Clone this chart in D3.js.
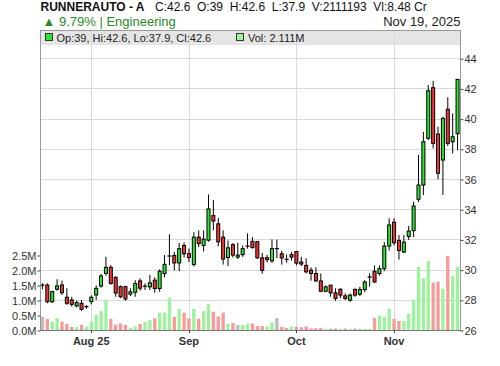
<!DOCTYPE html>
<html><head><meta charset="utf-8">
<script src="https://cdn.jsdelivr.net/npm/d3@7"></script>
<style>
body{margin:0;background:#fff}
svg text{font-family:"Liberation Sans",Arial,sans-serif}
</style>
</head><body>
<svg id="c" width="500" height="366"></svg>
<script>
const dates = [
"2025-07-17","2025-07-18","2025-07-21","2025-07-22","2025-07-23","2025-07-24","2025-07-25","2025-07-28","2025-07-29","2025-07-30","2025-07-31",
"2025-08-01","2025-08-04","2025-08-05","2025-08-06","2025-08-07","2025-08-08","2025-08-11","2025-08-12","2025-08-13","2025-08-14","2025-08-18","2025-08-19","2025-08-20","2025-08-21","2025-08-22","2025-08-25","2025-08-26","2025-08-27","2025-08-28","2025-08-29",
"2025-09-01","2025-09-02","2025-09-03","2025-09-04","2025-09-05","2025-09-08","2025-09-09","2025-09-10","2025-09-11","2025-09-12","2025-09-15","2025-09-16","2025-09-17","2025-09-18","2025-09-19","2025-09-22","2025-09-23","2025-09-24","2025-09-25","2025-09-26","2025-09-29","2025-09-30",
"2025-10-01","2025-10-03","2025-10-06","2025-10-07","2025-10-08","2025-10-09","2025-10-10","2025-10-13","2025-10-14","2025-10-15","2025-10-16","2025-10-17","2025-10-20","2025-10-23","2025-10-24","2025-10-27","2025-10-28","2025-10-29","2025-10-30","2025-10-31",
"2025-11-03","2025-11-04","2025-11-05","2025-11-06","2025-11-07","2025-11-10","2025-11-11","2025-11-12","2025-11-13","2025-11-14","2025-11-17","2025-11-18","2025-11-19"];

const open = [28.97,28.98,27.87,28.7,28.98,28.17,27.99,27.59,27.77,27.55,27.88,28.32,28.91,29.75,30.15,29.49,28.87,28.87,28.38,28.5,29.25,28.9,28.86,29.3,28.75,29.74,30.9,30.94,30.44,31.6,31.05,30.34,32.15,31.6,31.95,33.58,33.03,32.15,30.8,31.65,30.83,30.99,31.56,31.87,31.85,30.78,30.79,30.58,31.39,31.05,30.68,30.99,31.2,30.5,30.28,29.96,29.74,29.25,28.57,28.97,28.46,28.7,28.26,27.98,28.68,28.37,28.68,29.51,29.89,29.74,30.06,31.56,33.14,31.93,31.16,32.2,32.58,34.66,35.6,38.7,42.05,38.98,37.26,40.62,38.47,39.0];
const high = [29.1,29.09,28.6,29.36,29.27,28.76,28.2,27.95,27.99,27.65,28.3,28.95,29.7,30.85,30.3,29.55,28.95,28.9,28.76,29.3,29.42,29.09,29.64,29.49,30.02,30.97,32.34,31.16,31.76,31.8,31.4,32.48,32.6,32.6,34.98,34.6,33.43,32.6,31.93,31.75,31.78,31.6,32.4,32.15,31.9,31.1,30.97,32.0,31.98,31.25,31.0,31.16,31.22,30.85,30.75,30.15,30.15,29.74,28.95,28.97,28.76,28.76,28.42,28.42,28.76,28.86,29.3,29.75,30.28,30.28,31.82,33.4,33.4,32.29,32.29,32.9,34.5,37.59,39.13,42.23,42.51,39.46,40.13,41.41,40.35,42.6];
const low = [28.7,27.77,27.8,28.6,28.32,27.66,27.55,27.5,27.28,27.4,27.7,28.0,28.8,29.6,29.0,28.2,28.1,27.95,28.25,28.2,28.6,28.65,28.65,28.47,28.54,29.49,30.3,29.95,29.9,30.8,30.5,30.2,31.5,31.2,31.85,32.6,31.54,30.33,30.24,30.8,30.7,30.85,31.39,31.39,30.7,29.72,30.48,30.45,30.77,30.33,30.45,30.6,30.28,30.24,29.75,29.27,29.2,28.5,28.5,28.2,27.93,28.1,27.98,27.87,28.2,28.25,28.5,28.87,29.13,29.6,29.9,31.27,31.6,30.66,31.1,31.96,32.16,34.48,34.94,38.58,38.03,35.98,34.94,38.19,37.7,37.9];
const close = [28.97,27.87,28.54,28.92,28.47,27.77,27.7,27.81,27.37,27.55,28.17,28.76,29.58,30.15,29.09,28.45,28.2,28.05,28.53,29.08,28.77,28.9,29.12,28.75,29.89,30.35,30.9,30.44,31.39,31.05,30.8,32.15,31.72,32.02,34.02,33.22,31.84,30.7,31.44,30.96,30.96,31.39,31.56,31.46,30.78,29.95,30.66,31.39,31.39,30.77,30.68,30.83,30.43,30.37,29.85,29.74,29.25,28.57,28.86,28.46,28.09,28.31,28.09,28.31,28.31,28.68,29.18,29.51,29.18,30.06,31.56,32.96,31.78,31.27,31.82,32.55,34.21,35.6,38.47,41.85,38.36,36.38,40.02,38.36,38.8,42.6];
// volume in millions of shares
const volume = [0.44,0.37,0.28,0.40,0.28,0.20,0.10,0.10,0.17,0.11,0.28,0.50,0.63,1.00,0.37,0.18,0.22,0.17,0.08,0.13,0.20,0.27,0.33,0.39,0.58,0.58,1.08,0.43,0.70,0.58,0.38,0.70,0.38,0.63,0.87,0.61,0.45,0.58,0.20,0.23,0.17,0.17,0.21,0.22,0.13,0.13,0.12,0.25,0.40,0.10,0.07,0.12,0.10,0.09,0.12,0.05,0.06,0.07,0.04,0.04,0.05,0.04,0.05,0.04,0.05,0.04,0.04,0.04,0.40,0.47,0.44,0.71,0.37,0.30,0.30,0.53,1.00,2.10,1.73,2.30,1.58,1.61,1.37,2.47,1.80,2.111193];

const priceTicks = [26,28,30,32,34,36,38,40,42,44];
const volumeTicks = [0,0.5,1.0,1.5,2.0,2.5];
const monthTickDates = ["2025-07-31","2025-08-29","2025-09-30","2025-10-31"];
const monthTickLabels = ["Aug 25","Sep","Oct","Nov"];

const symbol = "RUNNERAUTO - A";
const sector = "Engineering";
const valueCr = "8.48 Cr";
const asOf = "Nov 19, 2025";

const L = 40, R = 460, T = 30, B = 330;
const svg = d3.select("#c");
const x = d3.scaleBand().domain(dates).range([L, R]).padding(0);
const cx = d => x(d) + x.bandwidth() / 2;
const y = d3.scaleLinear().domain([26, 45.87]).range([B, T]);
const yv = d3.scaleLinear().domain([0, 10]).range([B, T]);

const GREEN = "#2ee62e", RED = "#f23333";
const VGREEN = "#9ef29e", VRED = "#f79a9a", VGRAY = "#bdbdbd";

const n = dates.length;
const last = n - 1;
const fmt = v => (+v.toFixed(2)).toString();

// header
svg.append("text").attr("x", 40.5).attr("y", 11).attr("font-size", 12).attr("font-weight", "bold").attr("fill", "#111").text(symbol);
svg.append("text").attr("x", 155).attr("y", 11).attr("font-size", 12).attr("fill", "#111").style("white-space", "pre")
  .text(`C:${fmt(close[last])}  O:${fmt(open[last])}  H:${fmt(high[last])}  L:${fmt(low[last])}  V:${Math.round(volume[last]*1e6)}  Vl:${valueCr}`);
const chg = (close[last] / close[last - 1] - 1) * 100;
svg.append("text").attr("x", 42.5).attr("y", 26).attr("font-size", 13).attr("fill", "#2a8a2a")
  .text(`▲ ${chg.toFixed(2)}% | ${sector}`);
svg.append("text").attr("x", 460.5).attr("y", 26).attr("font-size", 13).attr("fill", "#222").attr("text-anchor", "end").text(asOf);

// grid
const g = svg.append("g");
g.selectAll("line.h").data(priceTicks).join("line")
  .attr("x1", L).attr("x2", R).attr("y1", d => Math.round(y(d)) + 0.5).attr("y2", d => Math.round(y(d)) + 0.5)
  .attr("stroke", "#d9d9d9");
g.selectAll("line.v").data(monthTickDates).join("line")
  .attr("x1", d => Math.round(cx(d)) + 0.5).attr("x2", d => Math.round(cx(d)) + 0.5).attr("y1", T).attr("y2", B)
  .attr("stroke", "#d9d9d9");

// legend box
svg.append("rect").attr("x", L).attr("y", T).attr("width", R - L).attr("height", 15).attr("fill", "#dcdcdc").attr("opacity", 0.75);

// volume bars
const vw = x.bandwidth() * 0.68;
svg.append("g").selectAll("rect").data(d3.range(n)).join("rect")
  .attr("x", i => cx(dates[i]) - vw / 2).attr("width", vw)
  .attr("y", i => yv(volume[i])).attr("height", i => B - yv(volume[i]))
  .attr("fill", i => i === 0 || close[i] === close[i - 1] ? VGRAY : (close[i] > close[i - 1] ? VGREEN : VRED));

// candles
const bw = x.bandwidth() * 0.62;
const cg = svg.append("g");
cg.selectAll("line").data(d3.range(n)).join("line")
  .attr("x1", i => cx(dates[i])).attr("x2", i => cx(dates[i]))
  .attr("y1", i => y(high[i])).attr("y2", i => y(low[i]))
  .attr("stroke", "#000").attr("stroke-width", 1);
cg.selectAll("rect").data(d3.range(n).filter(i => open[i] !== close[i])).join("rect")
  .attr("x", i => cx(dates[i]) - bw / 2).attr("width", bw)
  .attr("y", i => y(Math.max(open[i], close[i])))
  .attr("height", i => Math.max(1, Math.abs(y(open[i]) - y(close[i]))))
  .attr("fill", i => close[i] > open[i] ? GREEN : RED)
  .attr("stroke", "#000").attr("stroke-width", 1);
cg.selectAll("line.doji").data(d3.range(n).filter(i => open[i] === close[i])).join("line")
  .attr("x1", i => cx(dates[i]) - bw / 2 - 0.5).attr("x2", i => cx(dates[i]) + bw / 2 + 0.5)
  .attr("y1", i => y(close[i])).attr("y2", i => y(close[i]))
  .attr("stroke", "#000").attr("stroke-width", 1.2);

// frame
svg.append("line").attr("x1", L + 0.5).attr("x2", L + 0.5).attr("y1", T).attr("y2", B).attr("stroke", "#999");
svg.append("line").attr("x1", R + 0.5).attr("x2", R + 0.5).attr("y1", T).attr("y2", B).attr("stroke", "#999");
svg.append("line").attr("x1", L).attr("x2", R + 1).attr("y1", T + 0.5).attr("y2", T + 0.5).attr("stroke", "#999");
svg.append("line").attr("x1", L).attr("x2", R + 1).attr("y1", B + 0.5).attr("y2", B + 0.5).attr("stroke", "#777");

// right price axis
const ra = svg.append("g").attr("transform", `translate(${R + 0.5},0.5)`)
  .call(d3.axisRight(y).tickValues(priceTicks).tickSize(3).tickFormat(d3.format("d")));
ra.select(".domain").remove();
ra.selectAll("line").attr("stroke", "#444");
ra.selectAll("text").attr("font-size", 11).attr("fill", "#333").attr("font-family", "Liberation Sans, Arial, sans-serif").attr("x", 4);

// left volume axis
const la = svg.append("g").attr("transform", `translate(${L + 0.5},0.5)`)
  .call(d3.axisLeft(yv).tickValues(volumeTicks).tickSize(3).tickFormat(d => d.toFixed(1) + "M"));
la.select(".domain").remove();
la.selectAll("line").attr("stroke", "#444");
la.selectAll("text").attr("font-size", 11).attr("fill", "#333").attr("font-family", "Liberation Sans, Arial, sans-serif").attr("x", -4);

// bottom month axis
const bg = svg.append("g");
bg.selectAll("line").data(monthTickDates).join("line")
  .attr("x1", d => Math.round(cx(d)) + 0.5).attr("x2", d => Math.round(cx(d)) + 0.5)
  .attr("y1", B).attr("y2", B + 3).attr("stroke", "#444");
bg.selectAll("text").data(monthTickDates).join("text")
  .attr("x", d => cx(d)).attr("y", 345).attr("text-anchor", "middle")
  .attr("font-size", 11).attr("font-weight", "bold").attr("fill", "#333")
  .text((d, i) => monthTickLabels[i]);

// legend
svg.append("rect").attr("x", 45.5).attr("y", 33.5).attr("width", 7).attr("height", 7).attr("fill", GREEN).attr("stroke", "#333");
svg.append("text").attr("x", 56.5).attr("y", 41.5).attr("font-size", 11).attr("fill", "#222")
  .text(`Op:${fmt(open[last])}, Hi:${fmt(high[last])}, Lo:${fmt(low[last])}, Cl:${fmt(close[last])}`);
svg.append("rect").attr("x", 236.5).attr("y", 33.5).attr("width", 7).attr("height", 7).attr("fill", VGREEN).attr("stroke", "#333");
svg.append("text").attr("x", 248).attr("y", 41.5).attr("font-size", 11).attr("fill", "#222")
  .text(`Vol: ${volume[last].toFixed(3)}M`);
</script>
</body></html>
